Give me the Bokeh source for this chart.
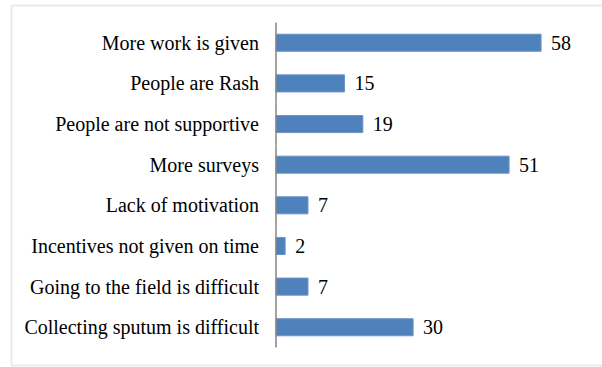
from bokeh.plotting import figure
from bokeh.models import ColumnDataSource, BoxAnnotation, Range1d
from bokeh.core.properties import value
from bokeh.embed import file_html
from bokeh.resources import INLINE

categories = [
    "More work is given",
    "People are Rash",
    "People are not supportive",
    "More surveys",
    "Lack of motivation",
    "Incentives not given on time",
    "Going to the field is difficult",
    "Collecting sputum is difficult",
]
values = [58, 15, 19, 51, 7, 2, 7, 30]

FONT = "Liberation Serif"
FSIZE = "20px"

src = ColumnDataSource(dict(cat=categories, val=values, lab=[str(v) for v in values]))

p = figure(
    width=602, height=367,
    y_range=list(reversed(categories)),
    x_range=Range1d(-60.28, 71.44),
    x_axis_type=None, y_axis_location=None,
    output_backend="svg", toolbar_location=None,
    min_border_left=0, min_border_right=0, min_border_top=2, min_border_bottom=0,
)
p.background_fill_color = "white"
p.border_fill_color = "white"
p.outline_line_color = None
p.grid.visible = False
p.y_range.range_padding = 0.49
p.y_range.range_padding_units = "absolute"

p.hbar(y="cat", right="val", left=0, height=0.42, source=src,
       fill_color="#4F81BD", line_color="#6A94C8", line_width=1)

# axis line: zero-width full-height bands stacked along the category axis
p.hbar(y="cat", left=0, right=0, height=1.0, source=src,
       fill_color=None, line_color="#858585", line_width=1.5)

# category labels
p.text(x=0, y="cat", text="cat", source=src, x_offset=-17,
       text_align="right", text_baseline="middle",
       text_font=value(FONT), text_font_size=FSIZE, text_color="#000000")

# value labels
p.text(x="val", y="cat", text="lab", source=src, x_offset=10,
       text_align="left", text_baseline="middle",
       text_font=value(FONT), text_font_size=FSIZE, text_color="#000000")

border = BoxAnnotation(left=11, right=620, top=5, bottom=365,
                       left_units="canvas", right_units="canvas",
                       top_units="canvas", bottom_units="canvas",
                       fill_alpha=0, line_color="#b8b8b8", line_width=2)
p.add_layout(border)

open("out.html", "w").write(file_html(p, INLINE))
